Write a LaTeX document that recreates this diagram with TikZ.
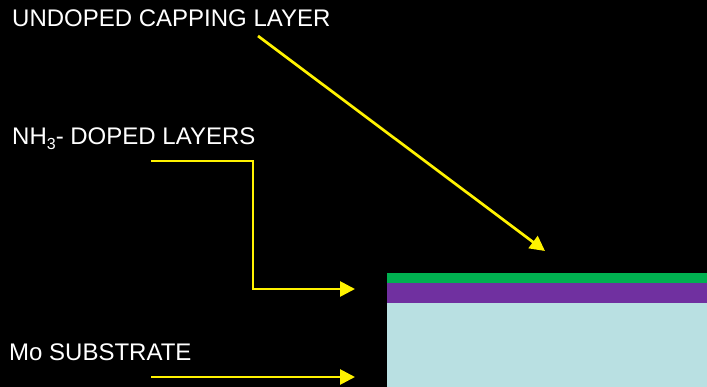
\documentclass[tikz,border=0pt]{standalone}
\usepackage{fontspec}
\setmainfont{Liberation Sans}
\usetikzlibrary{arrows.meta,positioning}
\definecolor{capGreen}{RGB}{0,176,80}
\definecolor{dopPurple}{RGB}{112,48,160}
\definecolor{subBlue}{RGB}{185,224,226}
\begin{document}
\begin{tikzpicture}[x=1pt,y=-1pt,font=\fontsize{24}{28}\selectfont,
  t/.style={text=white,anchor=base west,inner sep=0pt},
  l/.style={anchor=north west,inner sep=0pt,outer sep=0pt,minimum width=320pt},
  a/.style={-{Triangle[length=15pt,width=15pt]},line width=2.7pt,yellow}]
  \fill[black] (0,0) rectangle (707,387);
  \useasboundingbox (0,0) rectangle (707,387);
  \node[t] (capT) at (12,27) {UNDOPED CAPPING LAYER};
  \node[t] (dopT) at (12,145) {NH\raisebox{-5pt}{\fontsize{16}{18}\selectfont 3}- DOPED LAYERS};
  \node[t] (subT) at (9,360) {Mo SUBSTRATE};
  \node[l,fill=capGreen,minimum height=10pt] (cap) at (387,273) {};
  \node[l,fill=dopPurple,minimum height=20pt,below=0pt of cap.south west,anchor=north west] (dop) {};
  \node[l,fill=subBlue,minimum height=84pt,below=0pt of dop.south west,anchor=north west] (sub) {};
  \coordinate (capS) at (258,36); \coordinate (capE) at (545,251);
  \coordinate (dopS) at (151,161); \coordinate (dopM) at (253,289); \coordinate (dopE) at (355,289);
  \coordinate (subS) at (151,377); \coordinate (subE) at (355,377);
  \draw[a] (capS)--(capE); \draw[a] (dopS) -| (dopM) -- (dopE); \draw[a] (subS)--(subE);
\end{tikzpicture}
\end{document}
